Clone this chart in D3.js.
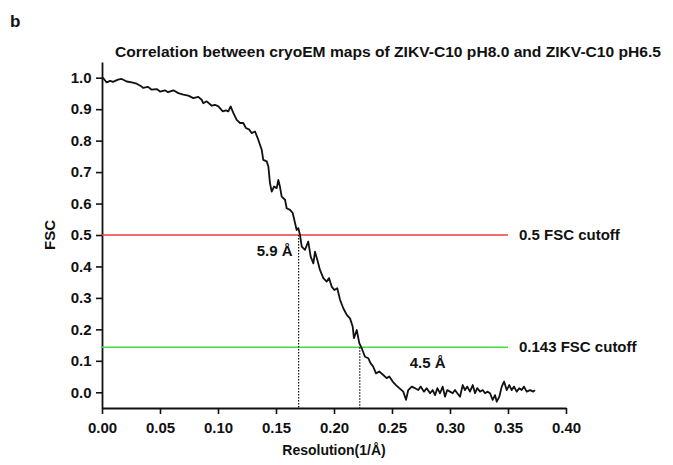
<!DOCTYPE html>
<html lang="en">
<head>
<meta charset="utf-8">
<title>FSC</title>
<script src="https://cdnjs.cloudflare.com/ajax/libs/d3/7.8.5/d3.min.js"></script>
<style>
  body { margin: 0; background: #fff; }
  text { font-family: "Liberation Sans", Arial, sans-serif; font-weight: bold; fill: #111; }
</style>
</head>
<body>
<script>
// FSC curve: resolution (1/A) and correlation
var resolution = [0.000,0.001,0.004,0.007,0.0095,0.0138,0.017,0.0213,0.0256,0.0299,0.0342,0.0353,0.0397,0.0428,0.0472,0.050,0.0543,0.0569,0.0615,0.0658,
  0.0701,0.0744,0.0787,0.083,0.0859,0.0873,0.0903,0.0946,0.0974,0.1003,0.1041,0.1069,0.1089,0.1109,0.1132,0.1161,0.119,0.1218,0.1241,0.127,
  0.129,0.1319,0.1347,0.1377,0.139,0.142,0.1434,0.1448,0.1463,0.1483,0.1506,0.152,0.1534,0.1549,0.1578,0.1592,0.1621,0.1644,0.1664,0.1678,
  0.1692,0.1707,0.1722,0.175,0.1778,0.1799,0.1822,0.1836,0.1856,0.1879,0.1908,0.1937,0.1957,0.198,0.2003,0.2028,0.2052,0.208,0.211,0.2138,
  0.2161,0.2172,0.2196,0.2218,0.2239,0.2267,0.2296,0.2316,0.2339,0.2362,0.239,0.2425,0.2454,0.2477,0.2506,0.2534,0.2563,0.2597,0.2621,0.264,
  0.267,0.2698,0.2727,0.2747,0.2776,0.2799,0.2828,0.2851,0.2871,0.2891,0.2914,0.2937,0.2957,0.2976,0.300,0.3023,0.3043,0.3063,0.3086,0.311,
  0.3129,0.3149,0.3172,0.3196,0.3216,0.3235,0.3259,0.3282,0.3302,0.3322,0.3345,0.3368,0.3388,0.3403,0.3425,0.3446,0.3466,0.3489,0.3511,0.3532,
  0.3552,0.3575,0.3597,0.3618,0.3638,0.3661,0.369,0.3718,0.3733];
var fsc = [1.000,0.999,0.985,0.990,0.987,0.994,0.996,0.988,0.985,0.981,0.972,0.968,0.971,0.962,0.964,0.956,0.960,0.954,0.960,0.951,
  0.946,0.943,0.935,0.939,0.930,0.919,0.925,0.911,0.914,0.909,0.893,0.896,0.893,0.909,0.888,0.866,0.856,0.856,0.840,0.835,
  0.824,0.829,0.803,0.771,0.739,0.734,0.718,0.665,0.638,0.654,0.649,0.675,0.654,0.622,0.612,0.585,0.580,0.570,0.538,0.516,
  0.522,0.500,0.463,0.453,0.479,0.431,0.410,0.447,0.421,0.389,0.363,0.352,0.363,0.336,0.325,0.331,0.294,0.267,0.246,0.235,
  0.209,0.172,0.198,0.156,0.140,0.113,0.108,0.092,0.081,0.060,0.066,0.055,0.045,0.050,0.034,0.023,0.013,0.002,-0.024,0.007,
  0.018,0.013,0.007,0.018,0.002,0.013,-0.003,0.007,-0.009,0.013,-0.003,0.018,-0.014,0.007,0.002,-0.003,0.007,-0.003,-0.014,0.023,
  0.007,0.018,0.002,0.023,-0.003,0.013,0.002,0.007,-0.003,0.002,-0.003,-0.024,-0.009,-0.030,-0.014,0.018,0.034,0.007,0.023,0.007,
  0.018,0.002,0.013,0.007,0.018,0.002,0.007,0.002,0.007];

var xTicks = [0.00, 0.05, 0.10, 0.15, 0.20, 0.25, 0.30, 0.35, 0.40];
var yTicks = [0.0, 0.1, 0.2, 0.3, 0.4, 0.5, 0.6, 0.7, 0.8, 0.9, 1.0];

var cutoffs = [0.5, 0.143];
var cutoffLabels = ["0.5 FSC cutoff", "0.143 FSC cutoff"];
var cutoffColors = ["#f03a3a", "#44dd44"];
var cutoffEnd = 0.35;
var resolutionsA = [5.9, 4.5];

var W = 673, H = 465;
var svg = d3.select("body").append("svg").attr("width", W).attr("height", H);

var x = d3.scaleLinear().domain([0, 0.40]).range([102, 566]);
var y = d3.scaleLinear().domain([-0.05, 1.05]).range([408, 62]);

// panel letter + title
svg.append("text").attr("x", 10).attr("y", 27).attr("font-size", 17).text("b");
svg.append("text").attr("x", 115).attr("y", 57).attr("font-size", 14.5)
  .attr("textLength", 546).attr("lengthAdjust", "spacingAndGlyphs")
  .text("Correlation between cryoEM maps of ZIKV-C10 pH8.0 and ZIKV-C10 pH6.5");

// axes
var xAxis = d3.axisBottom(x).tickValues(xTicks).tickFormat(d3.format(".2f")).tickSize(6).tickSizeOuter(0);
var yAxis = d3.axisLeft(y).tickValues(yTicks).tickFormat(d3.format(".1f")).tickSize(6).tickSizeOuter(0);

var gx = svg.append("g").attr("transform", "translate(0,408)").call(xAxis);
var gy = svg.append("g").attr("transform", "translate(102,0)").call(yAxis);
[gx, gy].forEach(function(g) {
  g.select(".domain").attr("stroke", "#111").attr("stroke-width", 1.8);
  g.selectAll(".tick line").attr("stroke", "#111").attr("stroke-width", 1.6);
  g.selectAll(".tick text").attr("font-size", 15).attr("font-family", "Liberation Sans, Arial, sans-serif")
    .attr("font-weight", "bold").attr("fill", "#111");
});
gx.selectAll(".tick text").attr("dy", "1.05em");
gy.selectAll(".tick text").attr("dx", "-0.1em");

svg.append("text").attr("transform", "translate(55," + y(0.5) + ") rotate(-90)")
  .attr("text-anchor", "middle").attr("font-size", 15).text("FSC");
svg.append("text").attr("x", x(0.2)).attr("y", 455).attr("text-anchor", "middle")
  .attr("font-size", 14).text("Resolution(1/\u00C5)");

// cutoff lines
cutoffs.forEach(function(c, i) {
  svg.append("line").attr("x1", x(0)).attr("x2", x(cutoffEnd))
    .attr("y1", y(c)).attr("y2", y(c))
    .attr("stroke", cutoffColors[i]).attr("stroke-width", 1.6);
  svg.append("text").attr("x", x(cutoffEnd) + 11).attr("y", y(c) + 5)
    .attr("font-size", 15).text(cutoffLabels[i]);
});

// dotted drop lines at the resolution crossings
resolutionsA.forEach(function(r, i) {
  svg.append("line").attr("x1", x(1 / r)).attr("x2", x(1 / r))
    .attr("y1", y(cutoffs[i])).attr("y2", 408)
    .attr("stroke", "#111").attr("stroke-width", 1.2).attr("stroke-dasharray", "1.5,1.5");
});
svg.append("text").attr("x", x(1 / resolutionsA[0]) - 6).attr("y", y(0.5) + 21)
  .attr("text-anchor", "end").attr("font-size", 15).text("5.9 \u00C5");
svg.append("text").attr("x", x(1 / resolutionsA[1]) + 50).attr("y", y(0.143) + 21)
  .attr("font-size", 15).text("4.5 \u00C5");

// FSC curve
var line = d3.line().x(function(d, i) { return x(resolution[i]); }).y(function(d) { return y(d); });
svg.append("path").datum(fsc).attr("d", line)
  .attr("fill", "none").attr("stroke", "#111").attr("stroke-width", 1.8).attr("stroke-linejoin", "round");
</script>
</body>
</html>
